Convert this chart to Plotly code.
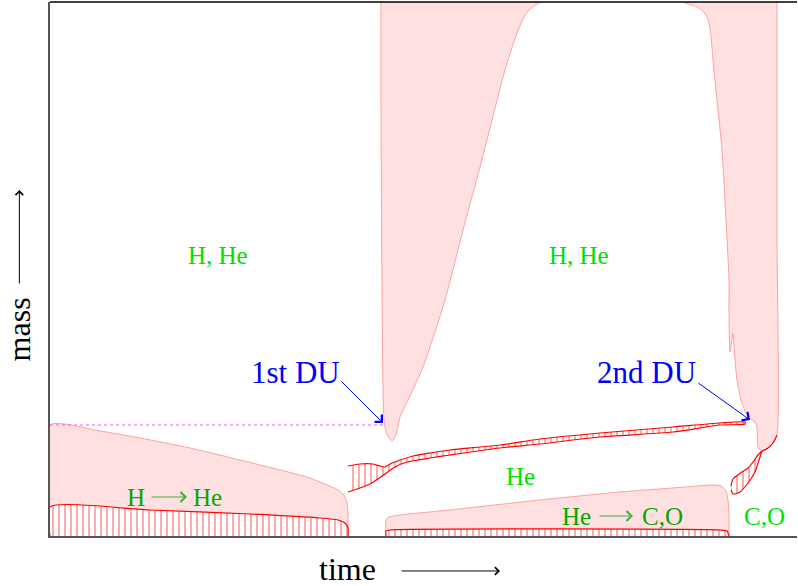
import plotly.graph_objects as go

# Kippenhahn-style sketch, time vs mass (arbitrary units)
# main sequence convective core
ms_core_x = [0, 0, 50, 90, 140, 190, 230, 257, 275, 288, 294, 297, 298, 298]
ms_core_y = [0, 111, 105, 98, 88, 76, 66, 59, 52, 46, 41, 33, 21, 0]

# hydrogen burning region (hatched)
h_burn_x = [0, 0, 100, 200, 270, 288, 295, 298, 298]
h_burn_y = [0, 29, 26, 22, 18, 16, 13, 8, 0]

# initial extent of the core (dotted)
core_line_x = [0, 333]
core_line_y = [111, 111]

# first convective envelope
env1_x = [331, 331, 332, 333, 334, 336, 339, 342, 346, 350, 360, 373, 395, 413, 430, 442, 455, 467, 477, 487, 493, 500]
env1_y = [545, 436, 250, 150, 116, 104, 98, 95, 101, 119, 140, 169, 236, 306, 369, 416, 466, 503, 524, 532, 535, 545]

# second convective envelope
env2_x = [625, 633, 645, 653, 658, 661, 663, 667, 672, 676, 679, 679, 680, 683, 684, 687, 692, 698, 705, 707, 708, 712,
          718, 723, 727, 727, 727]
env2_y = [545, 534, 530, 525, 517, 500, 476, 436, 386, 316, 256, 223, 184, 203, 189, 156, 133, 119, 114, 109, 89, 85,
          88, 93, 101, 300, 545]

# hydrogen burning shell (hatched)
shell_x = [298, 310, 323, 330, 335, 340, 350, 363, 380, 400, 450, 490, 550, 623, 670, 695,
           695, 670, 623, 550, 490, 450, 400, 380, 357, 345, 335, 328, 320, 310, 298]
shell_y = [70, 72, 72, 70, 69, 72, 76, 80, 83, 86, 91, 97, 103, 109, 113, 114,
           112, 111, 104, 99, 92, 88, 81, 78, 74, 69, 62, 57, 52, 48, 44]

# small burning lobe near second dredge-up (hatched)
lobe_x = [681, 683, 692, 698, 703, 708, 712, 710, 705, 698, 690, 683, 681]
lobe_y = [50, 57, 64, 68, 74, 81, 85, 79, 64, 53, 44, 42, 46]
lobe_edge_x = [712, 718, 723, 727]
lobe_edge_y = [85, 88, 93, 101]

# helium burning convective core
he_core_x = [336, 336, 339, 400, 490, 570, 623, 663, 671, 676, 678, 679, 679]
he_core_y = [0, 16, 19, 26, 36, 44, 48, 51, 50, 45, 36, 21, 0]

# helium burning region (hatched)
he_burn_x = [336, 336, 340, 670, 677, 679]
he_burn_y = [0, 5, 6, 6, 5, 0]

PINK = "#ffe0e0"
PINK_EDGE = "#ffa0a0"
RED = "#ff0000"
FONT = "Liberation Serif"

fig = go.Figure()


def pink(x, y):
    fig.add_trace(go.Scatter(x=x, y=y, fill="toself", fillcolor=PINK, mode="lines",
                             line=dict(color=PINK_EDGE, width=1, shape="spline", smoothing=0.6),
                             hoverinfo="skip", showlegend=False))


def hatched(x, y):
    fig.add_trace(go.Scatter(x=x, y=y, fill="toself", mode="lines",
                             fillpattern=dict(shape="|", fgcolor=RED, bgcolor="white", size=6, solidity=0.22),
                             line=dict(color=RED, width=1.2, shape="spline", smoothing=0.6),
                             hoverinfo="skip", showlegend=False))


pink(ms_core_x, ms_core_y)
pink(env1_x, env1_y)
pink(env2_x, env2_y)
pink(he_core_x, he_core_y)
hatched(h_burn_x, h_burn_y)
hatched(shell_x, shell_y)
hatched(lobe_x, lobe_y)
hatched(he_burn_x, he_burn_y)

fig.add_trace(go.Scatter(x=lobe_edge_x, y=lobe_edge_y, mode="lines",
                         line=dict(color=RED, width=1.2, shape="spline"), hoverinfo="skip", showlegend=False))
fig.add_trace(go.Scatter(x=core_line_x, y=core_line_y, mode="lines",
                         line=dict(color="#ff55ff", width=1, dash="dot"), hoverinfo="skip", showlegend=False))

ann = []
# region labels
for txt, x, y, col in [("H, He", 168, 281, "#00e000"), ("H, He", 529, 281, "#00e000"),
                       ("He", 470, 60, "#00e000"), ("C,O", 714, 20, "#00e000"),
                       ("H", 86, 39, "#00a800"), ("He", 157, 39, "#00a800"),
                       ("He", 526, 20, "#00a800"), ("C,O", 612, 20, "#00a800")]:
    ann.append(dict(x=x, y=y, text=txt, showarrow=False, font=dict(family=FONT, size=25, color=col)))

# reaction arrows
for x0, x1, y in [(100, 137, 39), (548, 583, 20)]:
    ann.append(dict(x=x1, y=y, ax=x0, ay=y, axref="x", ayref="y", text="", showarrow=True,
                    arrowhead=4, arrowsize=1.6, arrowwidth=1.2, arrowcolor="#40b040"))

# dredge-up labels
ann.append(dict(x=245, y=164, text="1st DU", showarrow=False, font=dict(family=FONT, size=31, color="blue")))
ann.append(dict(x=596, y=164, text="2nd DU", showarrow=False, font=dict(family=FONT, size=31, color="blue")))
ann.append(dict(x=333, y=113, ax=290, ay=156, axref="x", ayref="y", text="", showarrow=True,
                arrowhead=4, arrowsize=2, arrowwidth=1, arrowcolor="blue"))
ann.append(dict(x=700, y=116, ax=647, ay=154, axref="x", ayref="y", text="", showarrow=True,
                arrowhead=4, arrowsize=2, arrowwidth=1, arrowcolor="blue"))

# axis titles with arrows
ann.append(dict(xref="paper", yref="paper", x=0.3976, y=-0.062, xanchor="center", yanchor="middle",
                text="time", showarrow=False, font=dict(family=FONT, size=32, color="black")))
ann.append(dict(xref="paper", yref="paper", x=0.6024, y=-0.0655, ax=-100, ay=0, text="", showarrow=True,
                arrowhead=4, arrowsize=1.5, arrowwidth=1, arrowcolor="black"))
ann.append(dict(xref="paper", yref="paper", x=-0.041, y=0.3876, xanchor="center", yanchor="middle",
                text="mass", textangle=-90, showarrow=False, font=dict(family=FONT, size=32, color="black")))
ann.append(dict(xref="paper", yref="paper", x=-0.041, y=0.648, ax=0, ay=95, text="", showarrow=True,
                arrowhead=4, arrowsize=1.5, arrowwidth=1, arrowcolor="black"))

fig.update_layout(
    width=798, height=586,
    margin=dict(l=50, r=1, t=2, b=50),
    plot_bgcolor="white", paper_bgcolor="white",
    annotations=ann,
    shapes=[dict(type="line", xref="paper", yref="paper", x0=0, x1=1, y0=1, y1=1,
                 line=dict(color="black", width=1.5))],
    xaxis=dict(range=[0, 747], showgrid=False, zeroline=False, showticklabels=False, ticks="",
               showline=True, linecolor="#555555", linewidth=2),
    yaxis=dict(range=[0, 534], showgrid=False, zeroline=False, showticklabels=False, ticks="",
               showline=True, linecolor="#555555", linewidth=2),
)

# drop the default page margin so the figure sits at the window corner
fig.write_html("out.html", config={"displayModeBar": False},
               post_script="document.body.style.margin='0';")
